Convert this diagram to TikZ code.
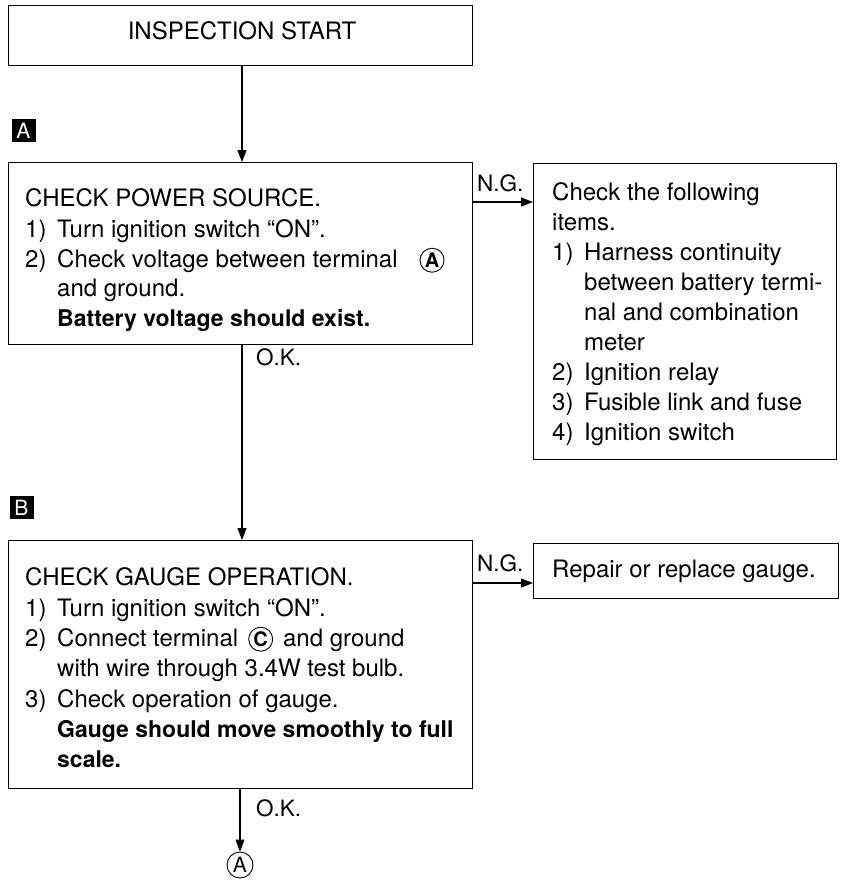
\documentclass[tikz,border=0pt]{standalone}
\usepackage{fontspec}
\setmainfont{TeX Gyre Heros}
\usetikzlibrary{arrows.meta}
\newcommand{\circlet}[1]{\tikz[baseline=(cl.base)]\node[circle,draw,line width=0.9pt,inner sep=0pt,minimum size=24pt,font=\fontsize{20}{20}\selectfont\bfseries](cl){#1};}
\begin{document}
\begin{tikzpicture}[x=1pt,y=-1pt,
  box/.style={draw,line width=1.3pt,inner sep=0pt,anchor=north west},
  txt/.style={anchor=base west,inner sep=0pt,font=\fontsize{24}{30}\selectfont},
  btxt/.style={txt,font=\fontsize{23}{30}\selectfont\bfseries},
  lbl/.style={anchor=base west,inner sep=0pt,font=\fontsize{22.5}{24}\selectfont},
  tag/.style={fill=black,text=white,inner sep=0pt,minimum width=24pt,minimum height=23pt,font=\fontsize{21}{21}\selectfont},
  arr/.style={line width=1.1pt,-{Triangle[length=12pt,width=9pt]}},
  line/.style={line width=1.1pt}]
\useasboundingbox (0,0) rectangle (843,881);
\newcommand{\num}[1]{\makebox[32pt][l]{#1}}
\newcommand{\ind}{\hspace*{32pt}}
% start box
\node[box,minimum width=464pt,minimum height=60pt] (start) at (8,5) {};
\node[txt,anchor=base] (starttext) at (242,39) {INSPECTION START};
% tag A
\node[tag] (tagA) at (23.5,130.5) {A};
% box A
\node[box,minimum width=464pt,minimum height=182pt] (boxA) at (8,162) {};
\node[txt] (a1) at (25,206.5) {CHECK POWER SOURCE.};
\node[txt] (a2) at (25,237.5) {\num{1)}Turn ignition switch “ON”.};
\node[txt] (a3) at (25,267.5) {\num{2)}Check voltage between terminal\hspace{22pt}\circlet{A}};
\node[txt] (a4) at (25,296.5) {\ind and ground.};
\node[btxt] (a5) at (25,326.5) {\ind Battery voltage should exist.};
% right box
\node[box,minimum width=303pt,minimum height=296pt] (boxR) at (533,163) {};
\node[txt] (r1) at (552,200.5) {Check the following};
\node[txt] (r2) at (552,230.5) {items.};
\node[txt] (r3) at (552,260.5) {\num{1)}Harness continuity};
\node[txt] (r4) at (552,290.5) {\ind between battery termi-};
\node[txt] (r5) at (552,320.5) {\ind nal and combination};
\node[txt] (r6) at (552,350.5) {\ind meter};
\node[txt] (r7) at (552,380.5) {\num{2)}Ignition relay};
\node[txt] (r8) at (552,410.5) {\num{3)}Fusible link and fuse};
\node[txt] (r9) at (552,440.5) {\num{4)}Ignition switch};
% tag B
\node[tag] (tagB) at (21.5,507.5) {B};
% box B
\node[box,minimum width=464pt,minimum height=248pt] (boxB) at (8,540) {};
\node[txt] (b1) at (25,585.5) {CHECK GAUGE OPERATION.};
\node[txt] (b2) at (25,616.5) {\num{1)}Turn ignition switch “ON”.};
\node[txt] (b3) at (25,646.5) {\num{2)}Connect terminal\hspace{10pt}\circlet{C}\hspace{10pt}and ground};
\node[txt] (b4) at (25,676.5) {\ind with wire through 3.4W test bulb.};
\node[txt] (b5) at (25,707.5) {\num{3)}Check operation of gauge.};
\node[btxt] (b6) at (25,737.5) {\ind Gauge should move smoothly to full};
\node[btxt] (b7) at (25,767.5) {\ind scale.};
% repair box
\node[box,minimum width=305pt,minimum height=55pt] (boxG) at (533,543) {};
\node[txt] (g1) at (552,577.5) {Repair or replace gauge.};
% connectors
\draw[arr] (start.south -| 242,0) -- (boxA.north -| 242,0);
\draw[arr] (boxA.east |- 0,202) -- (boxR.west |- 0,202);
\node[lbl] (ng1) at (477,191) {N.G.};
\draw[arr] (boxA.south -| 242,0) -- (boxB.north -| 242,0);
\node[lbl] (ok1) at (256,365) {O.K.};
\draw[arr] (boxB.east |- 0,583) -- (boxG.west |- 0,583);
\node[lbl] (ng2) at (477,571) {N.G.};
\node[circle,draw,line width=0.9pt,inner sep=0pt,minimum size=26pt,font=\fontsize{21}{21}\selectfont] (endA) at (240,865) {A};
\draw[arr] (boxB.south -| 240,0) -- (endA.north);
\node[lbl] (ok2) at (256,816) {O.K.};
\end{tikzpicture}
\end{document}
